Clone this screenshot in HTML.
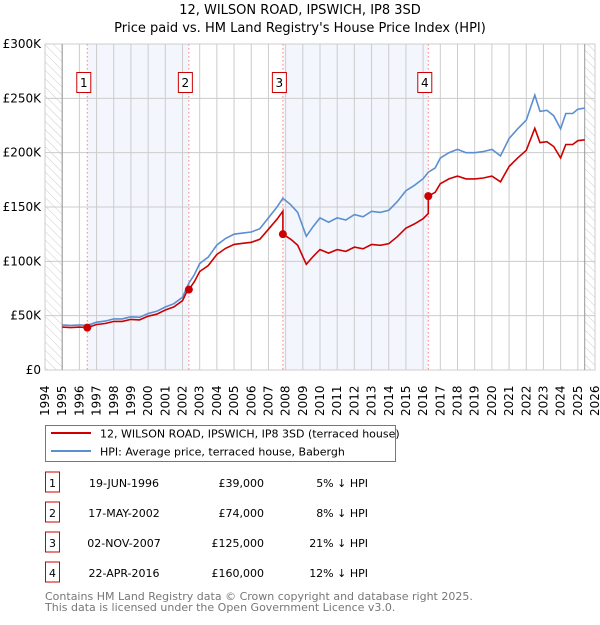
<!DOCTYPE html>
<html><head><meta charset="utf-8"><style>
body{margin:0;background:#fff;font-family:"Liberation Sans","DejaVu Sans",sans-serif;}
svg text{font-family:"DejaVu Sans","Liberation Sans",sans-serif;}
</style></head><body>
<svg id="chart" width="600" height="620" xmlns="http://www.w3.org/2000/svg">
<defs>
<pattern id="hatch" width="6" height="6" patternUnits="userSpaceOnUse" patternTransform="rotate(-45)"><line x1="0" y1="0" x2="0" y2="6" stroke="#ccc" stroke-width="1"/></pattern>
</defs>
<text x="300" y="14" text-anchor="middle" font-size="13">12, WILSON ROAD, IPSWICH, IP8 3SD</text>
<text x="300" y="32" text-anchor="middle" font-size="13">Price paid vs. HM Land Registry's House Price Index (HPI)</text>
<g id="plot"></g>
<g id="legend">
<rect x="45.5" y="425.5" width="350" height="36" fill="#fff" stroke="#777"/>
<line x1="51" y1="433" x2="91" y2="433" stroke="#cc0000" stroke-width="2"/>
<text x="100" y="437.5" font-size="11">12, WILSON ROAD, IPSWICH, IP8 3SD (terraced house)</text>
<line x1="51" y1="451" x2="91" y2="451" stroke="#5b8fd0" stroke-width="2"/>
<text x="100" y="455.5" font-size="11">HPI: Average price, terraced house, Babergh</text>
</g>
<g id="table" font-size="11"></g>
<text x="45" y="600" font-size="11" fill="#777">Contains HM Land Registry data © Crown copyright and database right 2025.</text>
<text x="45" y="611" font-size="11" fill="#777">This data is licensed under the Open Government Licence v3.0.</text>
</svg>
<script>
const hpiYears=[1995,1995.5,1996,1996.46,1997,1997.5,1998,1998.5,1999,1999.5,2000,2000.5,2001,2001.5,2002,2002.37,2002.7,2003,2003.5,2004,2004.5,2005,2005.5,2006,2006.5,2007,2007.5,2007.84,2008.3,2008.7,2009.2,2009.6,2010,2010.5,2011,2011.5,2012,2012.5,2013,2013.5,2014,2014.5,2015,2015.5,2016,2016.3,2016.7,2017,2017.5,2018,2018.5,2019,2019.5,2020,2020.5,2021,2021.5,2022,2022.5,2022.8,2023.2,2023.6,2024.0,2024.3,2024.7,2025,2025.4];
const hpiValues=[41.5,41,41.5,41,44,45,47,47,49,48.5,52,54,58,61,67,80,88,98,104,115,121,125,126,127,130,140,150,158,152,145,123,132,140,136,140,138,143,141,146,145,147,155,165,170,176,182,186,195,200,203,200,200,201,203,197,213,222,230,253,238,239,234,222,236,236,240,241];
const saleYears=[1996.46,2002.37,2007.84,2016.30];
const salePrices=[39,74,125,160];
const saleLabels=["1","2","3","4"];
const saleDates=["19-JUN-1996","17-MAY-2002","02-NOV-2007","22-APR-2016"];
const salePriceText=["£39,000","£74,000","£125,000","£160,000"];
const saleDiffText=["5% ↓ HPI","8% ↓ HPI","21% ↓ HPI","12% ↓ HPI"];
const yTicks=[0,50,100,150,200,250,300];
const yTickLabels=["£0","£50K","£100K","£150K","£200K","£250K","£300K"];
const xTickYears=[1994,1995,1996,1997,1998,1999,2000,2001,2002,2003,2004,2005,2006,2007,2008,2009,2010,2011,2012,2013,2014,2015,2016,2017,2018,2019,2020,2021,2022,2023,2024,2025,2026];

const L=45,R=595,T=44,B=370;
const X=y=>L+(y-1994)/32*(R-L);
const Y=v=>B-v/300*(B-T);
const NS="http://www.w3.org/2000/svg";
function mk(tag,attrs,parent,txt){const e=document.createElementNS(NS,tag);for(const k in attrs)e.setAttribute(k,attrs[k]);if(txt!==undefined)e.textContent=txt;parent.appendChild(e);return e;}
const plot=document.getElementById('plot');
for(let i=0;i<saleYears.length;i+=2){
  const x1=X(saleYears[i]),x2=X(saleYears[i+1]);
  const b=mk('rect',{x:x1,y:T,width:x2-x1,height:B-T,fill:'#f3f6fd'},plot);
  
  
}
const h1=mk('rect',{x:L,y:T,width:X(1995)-L,height:B-T,fill:'url(#hatch)'},plot);


const h2=mk('rect',{x:X(2025.4),y:T,width:R-X(2025.4),height:B-T,fill:'url(#hatch)'},plot);


xTickYears.forEach((yr,i)=>{
  const g=mk('line',{x1:X(yr),x2:X(yr),y1:T,y2:B,stroke:'#ccc','stroke-width':1},plot);
  
  
  const tx=X(yr)+4;
  const t=mk('text',{x:0,y:0,transform:`translate(${tx},${B+46}) rotate(-90)`,'font-size':12},plot,String(yr));
  
  
});
yTicks.forEach((v,i)=>{
  const g=mk('line',{x1:L,x2:R,y1:Y(v),y2:Y(v),stroke:'#ccc','stroke-width':1},plot);
  
  
  const t=mk('text',{x:L-4,y:Y(v)+4,'text-anchor':'end','font-size':12},plot,yTickLabels[i]);
  
  
});
mk('rect',{x:L,y:T,width:R-L,height:B-T,fill:'none',stroke:'#ccc'},plot);
mk('line',{x1:X(1995),x2:X(1995),y1:T,y2:B,stroke:'#999'},plot);
mk('line',{x1:X(2025.4),x2:X(2025.4),y1:T,y2:B,stroke:'#999'},plot);
saleYears.forEach((sy,i)=>{
  const l=mk('line',{x1:X(sy),x2:X(sy),y1:T,y2:B,stroke:'#e88','stroke-width':1,'stroke-dasharray':'1.5,2.5'},plot);
  
  
  const r=mk('rect',{x:X(sy)-10.5,y:72.5,width:14,height:20,fill:'#fff',stroke:'#cc0000'},plot);
  
  
  mk('text',{x:X(sy)-3.5,y:87,'text-anchor':'middle','font-size':12},plot,saleLabels[i]);
});
let d='';hpiYears.forEach((yr,i)=>{d+=(i?'L':'M')+X(yr).toFixed(1)+','+Y(hpiValues[i]).toFixed(1);});
const hp=mk('path',{d:d,fill:'none',stroke:'#5b8fd0','stroke-width':1.6},plot);


function hpiAt(yr){for(let i=1;i<hpiYears.length;i++){if(yr<=hpiYears[i]){const f=(yr-hpiYears[i-1])/(hpiYears[i]-hpiYears[i-1]);return hpiValues[i-1]+f*(hpiValues[i]-hpiValues[i-1]);}}return hpiValues[hpiValues.length-1];}
const ratios=saleYears.map((s,i)=>salePrices[i]/hpiAt(s));
function ratioAt(yr){let r=ratios[0];saleYears.forEach((s,i)=>{if(yr>=s)r=ratios[i];});return r;}
let d2='';hpiYears.forEach((yr,i)=>{
  const si=saleYears.indexOf(yr);
  if(si>0){const pr=ratios[si-1];d2+='L'+X(yr).toFixed(1)+','+Y(hpiValues[i]*pr).toFixed(1);}
  d2+=(i?'L':'M')+X(yr).toFixed(1)+','+Y(hpiValues[i]*ratioAt(yr)).toFixed(1);
});
const pp=mk('path',{d:d2,fill:'none',stroke:'#cc0000','stroke-width':1.6},plot);


saleYears.forEach((sy,i)=>{
  const c=mk('circle',{cx:X(sy),cy:Y(salePrices[i]),r:4,fill:'#cc0000'},plot);
  
  
});
const tb=document.getElementById('table');
const rowY=[483,513,543,573];
saleYears.forEach((s,i)=>{
  const r=mk('rect',{x:45.5,y:rowY[i]-11,width:14,height:20,fill:'#fff',stroke:'#cc0000'},tb);
  
  
  mk('text',{x:52.5,y:rowY[i]+4,'text-anchor':'middle'},tb,saleLabels[i]);
  const a=mk('text',{x:124,y:rowY[i]+4,'text-anchor':'middle'},tb,saleDates[i]);
  
  
  const b=mk('text',{x:264,y:rowY[i]+4,'text-anchor':'end'},tb,salePriceText[i]);
  
  
  const c=mk('text',{x:368,y:rowY[i]+4,'text-anchor':'end'},tb,saleDiffText[i]);
  
  
});
</script>
</body></html>
